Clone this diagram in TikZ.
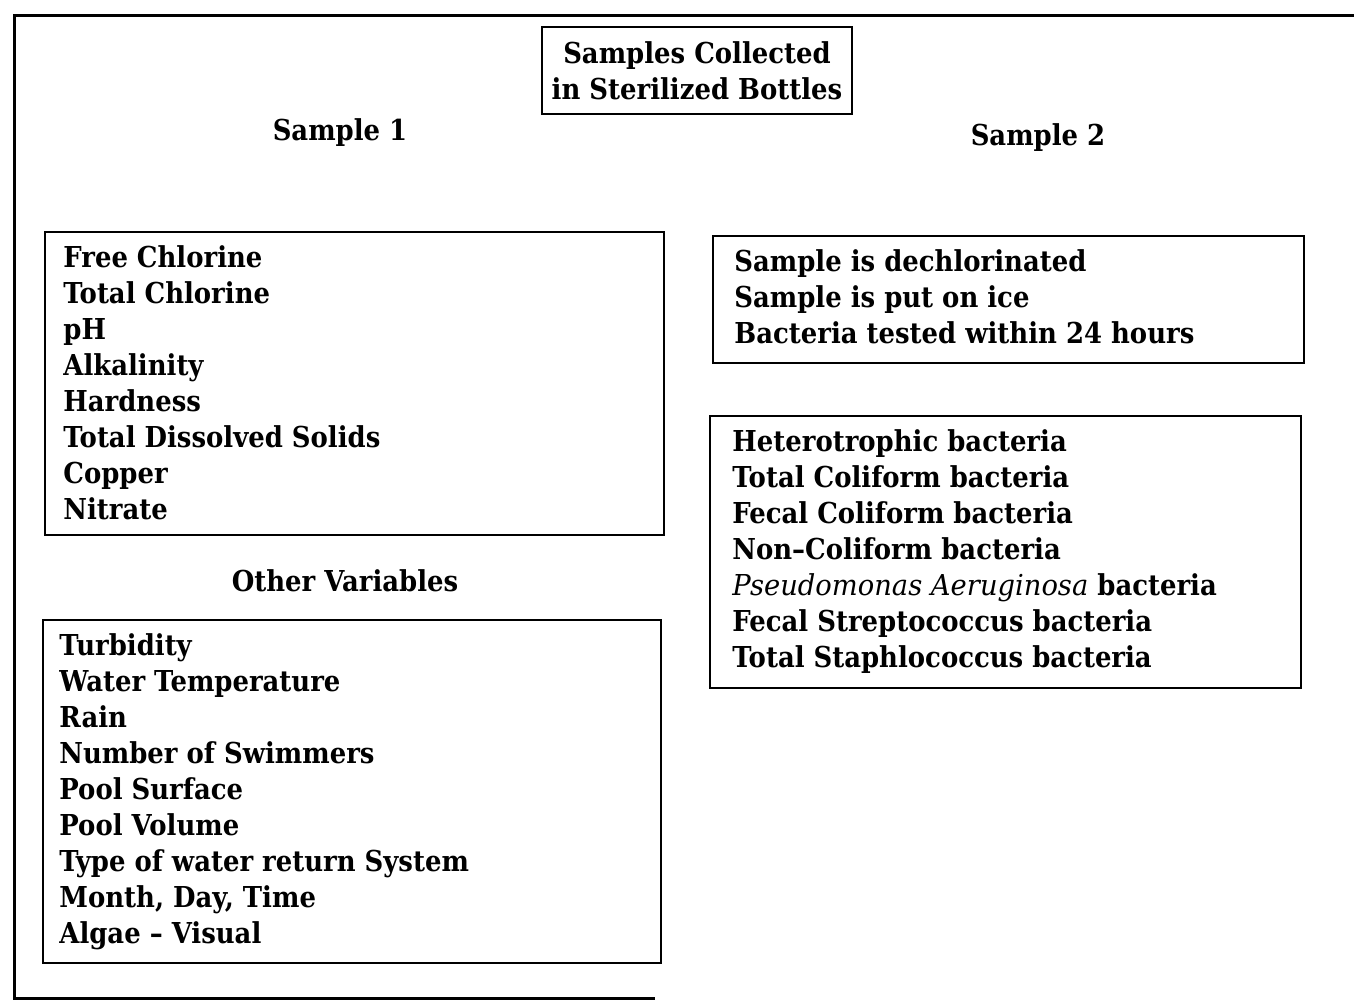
\documentclass[tikz,border=0pt]{standalone}
\usepackage{fontspec}
\setmainfont{DejaVu Serif}[FakeStretch=0.9]
\newfontfamily\myitfont{DejaVu Serif}[FakeStretch=0.95]
\begin{document}
\begin{tikzpicture}[x=0.5pt,y=-0.5pt,
  txt/.style={font=\fontsize{14.4}{18}\selectfont\bfseries},
  listtxt/.style={txt,anchor=north west,align=left,inner sep=0pt},
  boxline/.style={line width=1pt},
  frame/.style={line width=1.5pt}]
\useasboundingbox (0,0) rectangle (1354,1001);
% outer frame
\coordinate (ftr) at (1354,15);
\coordinate (ftl) at (14,15);
\coordinate (fbl) at (14,998);
\coordinate (fbr) at (655,998);
\draw[frame] (ftr) -- (ftl) -- (fbl) -- (fbr);
% title
\node[draw,boxline,align=center,txt,minimum width=155pt,minimum height=43.5pt,inner sep=0pt] (title) at (697,70.5)
  {Samples Collected\\in Sterilized Bottles};
\node[txt] (s1) at (340,133) {Sample 1};
\node[txt] (s2) at (1038,138) {Sample 2};
\node[txt] (ov) at (345,581) {Other Variables};
% box 1
\draw[boxline] (45,232) rectangle (664,535);
\node[listtxt] (b1) at (63,245)
  {Free Chlorine\\Total Chlorine\\pH\\Alkalinity\\Hardness\\Total Dissolved Solids\\Copper\\Nitrate};
% box 3
\draw[boxline] (43,620) rectangle (661,963);
\node[listtxt] (b3) at (59,633)
  {Turbidity\\Water Temperature\\Rain\\Number of Swimmers\\Pool Surface\\Pool Volume\\Type of water return System\\Month, Day, Time\\Algae -- Visual};
% box 2
\draw[boxline] (713,236) rectangle (1304,363);
\node[listtxt] (b2) at (734,249)
  {Sample is dechlorinated\\Sample is put on ice\\Bacteria tested within 24 hours};
% box 4
\draw[boxline] (710,416) rectangle (1301,688);
\node[listtxt] (b4) at (732,429)
  {Heterotrophic bacteria\\Total Coliform bacteria\\Fecal Coliform bacteria\\Non--Coliform bacteria\\{\myitfont\mdseries\itshape Pseudomonas Aeruginosa} bacteria\\Fecal Streptococcus bacteria\\Total Staphlococcus bacteria};
\end{tikzpicture}
\end{document}
